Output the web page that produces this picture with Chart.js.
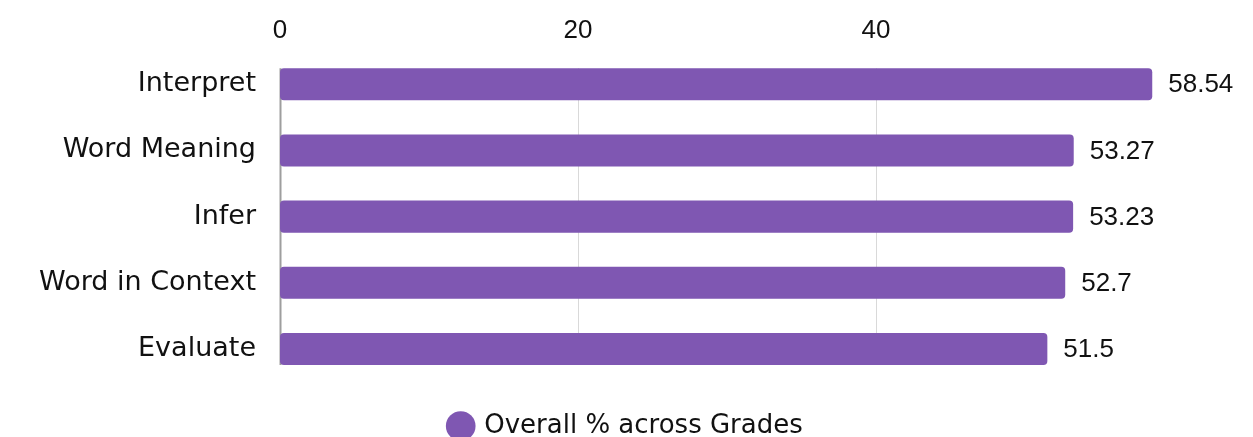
<!DOCTYPE html>
<html>
<head>
<meta charset="utf-8">
<script src="https://cdn.jsdelivr.net/npm/chart.js@4.4.1/dist/chart.umd.min.js"></script>
<style>
  html, body { margin: 0; padding: 0; background: #fff; }
  #wrap { width: 1253px; height: 437px; }
</style>
</head>
<body>
<div id="wrap"><canvas id="skillChart" width="1253" height="437"></canvas></div>
<script>
// chart data
const skills = ["Interpret", "Word Meaning", "Infer", "Word in Context", "Evaluate"];
const overallPct = [58.54, 53.27, 53.23, 52.7, 51.5];
const xTicks = [0, 20, 40];
const seriesName = "Overall % across Grades";

const barColor = "#7f57b2";
const labelFont = "'DejaVu Sans', sans-serif";

// grid lines only between first bar top and last bar bottom
const gridPlugin = {
    id: "barGrid",
    beforeDatasetsDraw(chart) {
        const meta = chart.getDatasetMeta(0);
        const first = meta.data[0];
        const last = meta.data[meta.data.length - 1];
        const top = first.y - first.height / 2;
        const bottom = last.y + last.height / 2;
        const ctx = chart.ctx;
        const xs = chart.scales.x;
        ctx.save();
        xTicks.forEach(t => {
            const px = Math.round(xs.getPixelForValue(t)) + 0.5;
            ctx.beginPath();
            ctx.strokeStyle = t === 0 ? "#9e9e9e" : "#d9d9d9";
            ctx.lineWidth = t === 0 ? 2 : 1;
            ctx.moveTo(px, top);
            ctx.lineTo(px, bottom);
            ctx.stroke();
        });
        ctx.restore();
    }
};

// value labels at the end of each bar
const valuePlugin = {
    id: "barValues",
    afterDatasetsDraw(chart) {
        const ctx = chart.ctx;
        const meta = chart.getDatasetMeta(0);
        ctx.save();
        ctx.font = "26px 'Liberation Sans', Arial, sans-serif";
        ctx.fillStyle = "#111";
        ctx.textAlign = "left";
        ctx.textBaseline = "middle";
        meta.data.forEach((bar, i) => {
            ctx.fillText(String(overallPct[i]), bar.x + 16, bar.y + 1);
        });
        ctx.restore();
    }
};

new Chart(document.getElementById("skillChart"), {
    type: "bar",
    data: {
        labels: skills,
        datasets: [{
            label: seriesName,
            data: overallPct,
            backgroundColor: barColor,
            borderRadius: 4,
            borderSkipped: false,
            barPercentage: 0.97,
            categoryPercentage: 0.5
        }]
    },
    options: {
        indexAxis: "y",
        responsive: false,
        animation: false,
        devicePixelRatio: 1,
        layout: {
            padding: { left: 0, right: 0, top: 10, bottom: -12 }
        },
        scales: {
            x: {
                position: "top",
                min: 0,
                max: 60,
                grid: { display: false, drawTicks: false },
                border: { display: false },
                afterBuildTicks(scale) {
                    scale.ticks = xTicks.map(v => ({ value: v }));
                },
                ticks: {
                    padding: 5,
                    color: "#111",
                    font: { family: "'Liberation Sans', Arial, sans-serif", size: 26 }
                }
            },
            y: {
                grid: { display: false, drawTicks: false },
                border: { display: false },
                afterFit(scale) {
                    scale.width = 280;
                },
                ticks: {
                    padding: 24,
                    color: "#111",
                    font: { family: labelFont, size: 27 }
                }
            },
            // empty right axis, keeps room for the value labels
            yRight: {
                type: "category",
                position: "right",
                grid: { display: false, drawTicks: false },
                border: { display: false },
                ticks: { display: false },
                afterFit(scale) {
                    scale.width = 79;
                }
            }
        },
        plugins: {
            tooltip: { enabled: false },
            legend: {
                position: "bottom",
                title: {
                    display: true,
                    text: "",
                    font: { size: 20 },
                    padding: { top: 6, bottom: 0 }
                },
                labels: {
                    usePointStyle: true,
                    pointStyle: "circle",
                    boxWidth: 21,
                    boxHeight: 21,
                    padding: 1,
                    color: "#111",
                    font: { family: labelFont, size: 26 }
                }
            }
        }
    },
    plugins: [gridPlugin, valuePlugin]
});
</script>
</body>
</html>
